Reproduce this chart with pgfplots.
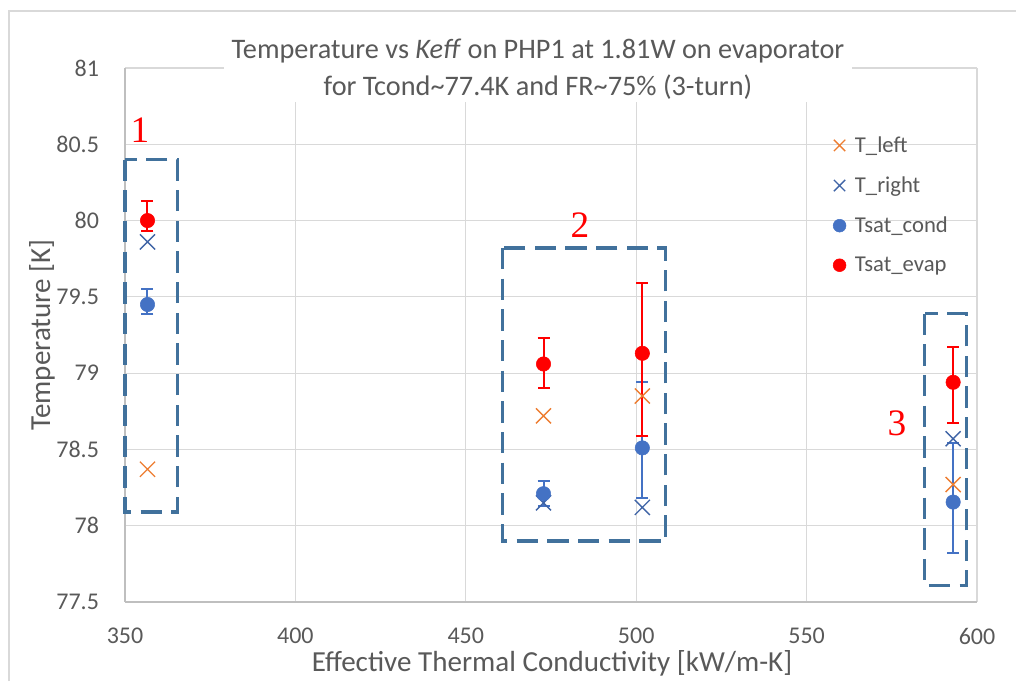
\documentclass[border=0pt]{standalone}
\usepackage{pgfplots}
\pgfplotsset{compat=1.18}
\usepackage{fontspec}
\setmainfont{Carlito}
\newfontfamily\tnr{Liberation Serif}
\definecolor{axgray}{HTML}{595959}
\definecolor{gridgray}{HTML}{D9D9D9}
\definecolor{axline}{HTML}{BFBFBF}
\definecolor{orng}{HTML}{ED7D31}
\definecolor{blu}{HTML}{4472C4}
\definecolor{dblu}{HTML}{3F64A6}
\definecolor{boxblue}{HTML}{41719C}
\begin{document}
\begin{tikzpicture}[x=0.75pt,y=0.75pt]
\useasboundingbox (0,0) rectangle (1016,681);
\draw[gridgray, line width=1.5pt] (9,0) -- (9,670) -- (1016,670);
\begin{axis}[
  at={(93.75pt,59.25pt)}, anchor=south west,
  scale only axis, width=639pt, height=400.5pt,
  xmin=350, xmax=600, ymin=77.5, ymax=81,
  xtick={350,400,450,500,550,600},
  ytick={77.5,78,78.5,79,79.5,80,80.5,81},
  yticklabels={77.5,78,78.5,79,79.5,80,80.5,81},
  xticklabels={350,400,450,500,550,600},
  grid=major, grid style={gridgray, line width=0.9pt},
  axis x line*=bottom, axis y line*=left,
  axis line style={axline, line width=0.9pt, -},
  major tick length=0pt,
  tick label style={font=\fontsize{18}{18}\selectfont, text=axgray},
  yticklabel style={anchor=east, xshift=-16pt},
  xticklabel style={anchor=north, yshift=-16pt},
  clip=false,
  legend style={at={(axis cs:592.3,80.57)}, anchor=north east, draw=none, fill=none,
    font=\fontsize{17}{17}\selectfont, text=axgray, row sep=12.8pt, inner sep=0pt},
  legend cell align=left,
  legend image code/.code={\draw[mark repeat=2,mark phase=2,#1] plot coordinates {(0pt,0pt)(5pt,0pt)(10pt,0pt)}; \path (0pt,0pt) (14pt,0pt);},
]
\addplot[only marks, mark=x, mark size=8pt, orng, line width=1pt,
  legend image post style={mark size=6pt}] coordinates {
  (356.6,78.37) (472.8,78.72) (501.8,78.85) (593,78.27)};
\addlegendentry{T\_left}
\addplot[only marks, mark=x, mark size=8pt, dblu, line width=1pt,
  legend image post style={mark size=6pt}] coordinates {
  (356.6,79.86) (472.8,78.15) (501.8,78.12) (593,78.57)};
\addlegendentry{T\_right}
\addplot[only marks, mark=*, mark size=5.4pt, blu, mark options={fill=blu, draw=blu},
  legend image post style={mark size=4.8pt},
  error bars/.cd, y dir=both, y explicit,
  error bar style={blu, line width=1.5pt},
  error mark options={rotate=90, mark size=4.5pt, blu, line width=1.5pt}]
  coordinates {
  (356.6,79.45) += (0,0.10) -= (0,0.06)
  (472.8,78.21) += (0,0.08) -= (0,0.08)
  (501.8,78.51) += (0,0.43) -= (0,0.33)
  (593,78.155) += (0,0.39) -= (0,0.335)};
\addlegendentry{Tsat\_cond}
\addplot[only marks, mark=*, mark size=5.4pt, red, mark options={fill=red, draw=red},
  legend image post style={mark size=4.8pt},
  error bars/.cd, y dir=both, y explicit,
  error bar style={red, line width=1.5pt},
  error mark options={rotate=90, mark size=4.5pt, red, line width=1.5pt}]
  coordinates {
  (356.6,80.00) += (0,0.13) -= (0,0.07)
  (472.8,79.06) += (0,0.17) -= (0,0.16)
  (501.8,79.13) += (0,0.46) -= (0,0.54)
  (593,78.94) += (0,0.23) -= (0,0.27)};
\addlegendentry{Tsat\_evap}
\draw[boxblue, line width=2.3pt, dash pattern=on 16pt off 7pt] (axis cs:350,80.40) rectangle (axis cs:365.3,78.09);
\draw[boxblue, line width=2.3pt, dash pattern=on 16pt off 7pt] (axis cs:460.9,79.82) rectangle (axis cs:508.7,77.90);
\draw[boxblue, line width=2.3pt, dash pattern=on 16pt off 7pt] (axis cs:584.6,79.39) rectangle (axis cs:596.8,77.61);
\node[text=red, font=\tnr\fontsize{28}{28}\selectfont] at (axis cs:354.4,80.59) {1};
\node[text=red, font=\tnr\fontsize{28}{28}\selectfont] at (axis cs:483.5,79.97) {2};
\node[text=red, font=\tnr\fontsize{28}{28}\selectfont] at (axis cs:576.5,78.67) {3};
\end{axis}
\node[fill=white, inner xsep=6pt, inner ysep=2pt, align=center, text=axgray,
  font=\fontsize{21.2}{27.5}\selectfont] at (538,612)
  {Temperature vs \textit{Keff} on PHP1 at 1.81W on evaporator\\ for Tcond\textasciitilde77.4K and FR\textasciitilde75\% (3-turn)};
\node[text=axgray, font=\fontsize{21.8}{21.8}\selectfont] at (552,18) {Effective Thermal Conductivity [kW/m-K]};
\node[text=axgray, font=\fontsize{21.8}{21.8}\selectfont, rotate=90] at (42,346) {Temperature [K]};
\end{tikzpicture}
\end{document}
